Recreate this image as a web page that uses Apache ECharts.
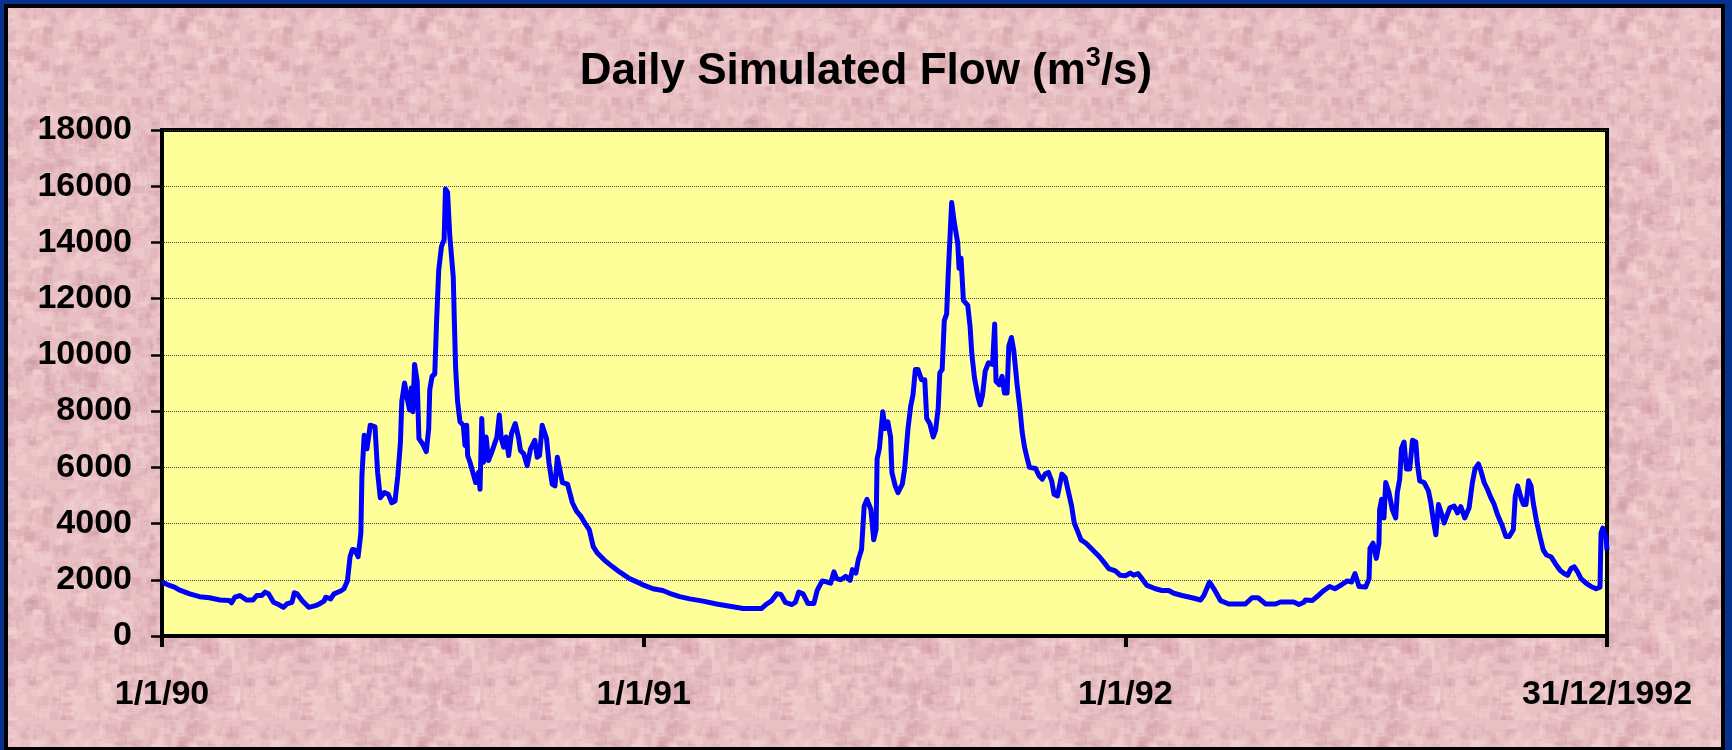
<!DOCTYPE html>
<html>
<head>
<meta charset="utf-8">
<title>Daily Simulated Flow</title>
<script src="https://cdn.jsdelivr.net/npm/echarts@6.0.0/dist/echarts.min.js"></script>
<style>
  html, body { margin: 0; padding: 0; background: #e8c0c4; }
  #chart { width: 1732px; height: 750px; background-color: #e8c0c4; }
</style>
</head>
<body>
<div id="chart"></div>
<script>
// day offsets from 1/1/1990 and flow (m3/s)
const days1990 = [0, 5.6, 9.4, 13, 21, 28.5, 36, 44, 51, 52.7,
  55.2, 59, 64, 69, 71.8, 75.6, 78.1, 80.7, 84.5, 88.3,
  92.1, 94.6, 98.5, 100.3, 102.3, 106.1, 111.2, 116.3, 118.8, 122.7,
  124, 127.8, 130.3, 135.4, 137.9, 140.5, 142.5, 144.3, 146.1, 148.6,
  150.7, 151.5, 153.2, 155.3, 157.8, 161.4, 163.4, 165.4, 168.5, 171.5,
  174.1, 176.6, 178.7, 180.7, 181.7, 183.8, 185.8, 187.6, 188.9, 190.1,
  191.4, 193.4, 194.7, 197.4, 200.3, 202.1, 202.9, 204.7, 206.7, 208,
  209.7, 211.8, 213.8, 214.8, 216.4, 218.1, 220.7, 221.4, 222.5, 224,
  225.8, 228.3, 229.6, 230.9, 231.6, 233.4, 235.9, 237.7, 239.8, 241,
  242.3, 243.6, 245.6, 247.4, 249.9, 253.8, 255.6, 257.1, 258.9, 260.7,
  262.7, 264.8, 267.7, 270.3, 271.6, 274.1, 276.7, 279.3, 282.5, 284.3,
  286.1, 288.1, 291.4, 293.2, 295.7, 297.8, 299.6, 301.4, 303.4, 307.3,
  311, 314.1, 317.4, 321.2, 323.8, 326.8, 330.1, 335.2, 341.5, 346.7,
  354.3, 361.9];
const flow1990 = [1920, 1800, 1740, 1640, 1500, 1400, 1360, 1280, 1260, 1180,
  1380, 1440, 1280, 1280, 1440, 1440, 1560, 1500, 1200, 1120,
  1020, 1140, 1200, 1540, 1500, 1260, 1020, 1080, 1130, 1240,
  1380, 1320, 1500, 1600, 1680, 1960, 2820, 3080, 3060, 2820,
  3660, 5700, 7140, 6660, 7500, 7440, 5820, 4920, 5100, 5040,
  4740, 4800, 5700, 6900, 8340, 9000, 8460, 8040, 8820, 7980,
  9660, 9060, 7020, 6840, 6560, 7380, 8760, 9240, 9320, 11100,
  13020, 13860, 14100, 15900, 15780, 14220, 12780, 11460, 9540, 8340,
  7620, 7500, 6780, 7500, 6420, 6180, 5760, 5460, 5820, 5220,
  7740, 6180, 7080, 6240, 6540, 7080, 7860, 7020, 6720, 7080,
  6420, 7200, 7560, 7020, 6600, 6480, 6060, 6660, 6960, 6360,
  6420, 7500, 7020, 6180, 5400, 5340, 6360, 5940, 5460, 5400,
  4740, 4440, 4260, 3960, 3780, 3180, 2940, 2700, 2460, 2280,
  2040, 1880];

const days1991 = [365.5, 372, 379.5, 384.6, 392.3, 400, 410, 420.2, 430.3, 440.4,
  454.4, 458.3, 462.1, 465.9, 469, 472.3, 477.4, 480, 482.5, 485.8,
  489.4, 494, 496.5, 500.3, 504.1, 506.7, 509.2, 511.3, 514.3, 518.1,
  521.4, 523.2, 525.8, 527.6, 530.1, 532.1, 534.2, 537.2, 539.3, 541.1,
  541.9, 543.6, 546.2, 548, 550, 552.1, 553.1, 555.6, 557.7, 561,
  562.8, 564.3, 565.3, 567.3, 569.1, 570.9, 572.9, 575.5, 578, 579.5,
  581.8, 584.4, 586.2, 588.2, 589.4, 591.2, 592.8, 594.6, 595.8, 598.4,
  600.4, 603, 604, 605.5, 607.3, 610.6, 612.4, 613.7, 615.7, 618.3,
  620, 621.8, 623.8, 626.3, 629.4, 631, 632, 634.5, 636.6, 638.4,
  640.4, 641.7, 643.7, 645.5, 648, 650.1, 651.8, 653.6, 655.7, 657.4,
  662, 664.6, 667.1, 669.2, 671.7, 674.2, 676, 678.6, 681.9, 684.4,
  687, 689.3, 691.3, 693.9, 696.4, 700.2, 705.3, 710.4, 715.5, 717.4,
  722.4, 726.2];
const flow1991 = [1800, 1680, 1620, 1520, 1400, 1320, 1240, 1140, 1060, 980,
  980, 1140, 1260, 1500, 1480, 1200, 1120, 1200, 1560, 1500,
  1160, 1160, 1620, 1960, 1920, 1880, 2280, 2040, 2000, 2120,
  1980, 2360, 2240, 2700, 3080, 4620, 4860, 4500, 3420, 3780,
  6300, 6660, 7980, 7380, 7620, 7080, 5820, 5340, 5100, 5400,
  5960, 6000, 7380, 8160, 8580, 9480, 9480, 9120, 9120, 7740,
  7560, 7080, 7320, 8100, 9360, 9480, 11220, 11460, 12900, 15420,
  14700, 13980, 13080, 13440, 11940, 11760, 10980, 10020, 9180, 8520,
  8220, 8580, 9420, 9720, 9660, 11100, 9060, 8940, 9240, 8640,
  8640, 10320, 10620, 10140, 8940, 8100, 7260, 6720, 6300, 6000,
  5960, 5700, 5580, 5760, 5820, 5520, 5040, 4980, 5760, 5640,
  5100, 4620, 4020, 3720, 3420, 3300, 3060, 2820, 2520, 2400,
  2320, 2160];

const days1992 = [730, 733.8, 736.3, 739.6, 742.6, 746.4, 752.8, 757.8, 762.9, 766.7,
  773, 780.6, 787, 789.5, 793.8, 797.1, 802.1, 808.4, 821, 826,
  830.6, 836.2, 843.8, 847.6, 857.7, 861.5, 865.3, 866.5, 871.6, 876.7,
  880.5, 884.8, 888.8, 893.1, 898.2, 901.4, 904, 907.1, 912.1, 914.7,
  915.4, 917.7, 920.2, 922.2, 922.7, 924.2, 926, 927.3, 929.8, 932.3,
  934.9, 936.1, 937.9, 939.2, 941.2, 943, 945.5, 947.6, 950.1, 951.3,
  953.1, 956.4, 959.7, 961.5, 963.3, 965.3, 967.3, 969.8, 971.6, 972.8,
  975.9, 979.2, 981.7, 984.2, 987.2, 990.5, 993, 995, 997.6, 999.4,
  1001.9, 1004.4, 1007, 1009.5, 1012, 1015.3, 1018.4, 1020.9, 1024, 1025.5,
  1027.3, 1029.8, 1031.6, 1033.6, 1035.6, 1037.4, 1039.1, 1041.6, 1044.2, 1046.7,
  1049.2, 1052.5, 1055.8, 1059.4, 1062.6, 1065.1, 1067.7, 1070.2, 1072.7, 1075.3,
  1079.1, 1082.9, 1086.7, 1089.7, 1090.5, 1091.8, 1094.3, 1095];
const flow1992 = [2140, 2240, 2160, 2220, 2040, 1800, 1680, 1620, 1620, 1520,
  1440, 1360, 1280, 1440, 1920, 1680, 1260, 1140, 1140, 1360,
  1360, 1140, 1140, 1210, 1210, 1120, 1200, 1280, 1260, 1460,
  1620, 1760, 1680, 1800, 1960, 1920, 2220, 1760, 1740, 2040,
  3120, 3300, 2760, 3300, 4500, 4860, 4200, 5460, 5100, 4500,
  4200, 5100, 5580, 6660, 6900, 5940, 5940, 6960, 6900, 6120,
  5520, 5460, 5160, 4740, 4140, 3600, 4680, 4320, 4020, 4080,
  4560, 4620, 4380, 4600, 4200, 4560, 5460, 5940, 6120, 5880,
  5460, 5220, 4920, 4680, 4320, 3960, 3540, 3540, 3780, 4980,
  5340, 4920, 4680, 4680, 5520, 5340, 4740, 4080, 3540, 3060,
  2880, 2820, 2580, 2340, 2220, 2160, 2400, 2460, 2280, 2040,
  1880, 1760, 1680, 1740, 3660, 3840, 3480, 3060];

const xTickDays = [0, 365, 730, 1095];
const xTickLabels = ['1/1/90', '1/1/91', '1/1/92', '31/12/1992'];

const flowDays = days1990.concat(days1991, days1992);
const flowValues = flow1990.concat(flow1991, flow1992);

const FONT = "'Liberation Sans', Arial, sans-serif";
const BLUE_FRAME = '#06318f';

// mottled pink slide background (fixed seed so it is the same every time)
function makeTexture() {
  const c = document.createElement('canvas');
  c.width = 240;
  c.height = 240;
  const ctx = c.getContext('2d');
  ctx.fillStyle = '#e8c0c4';
  ctx.fillRect(0, 0, 240, 240);
  let seed = 7;
  const rnd = function () { seed = (seed * 16807) % 2147483647; return seed / 2147483647; };
  for (let k = 0; k < 1400; k++) {
    const x = rnd() * 240, y = rnd() * 240;
    const s = 3 + rnd() * 9;
    ctx.fillStyle = rnd() < 0.5 ? 'rgba(205,150,160,0.22)' : 'rgba(248,214,214,0.28)';
    ctx.fillRect(x, y, s, s * (0.5 + rnd()));
  }
  return c.toDataURL();
}
const chartDom = document.getElementById('chart');
chartDom.style.backgroundImage = 'url(' + makeTexture() + ')';

const chart = echarts.init(chartDom);

// outer frame of the slide: blue band with a black line inside
function band(x, y, w, h, fill) {
  return { type: 'rect', shape: { x: x, y: y, width: w, height: h }, style: { fill: fill }, silent: true, z: 100 };
}

chart.setOption({
  animation: false,
  backgroundColor: 'transparent',
  title: {
    text: '{t|Daily Simulated Flow (m}{s|3}{t|/s)}',
    left: 'center',
    top: 40,
    textStyle: {
      rich: {
        t: { fontFamily: FONT, fontWeight: 'bold', fontSize: 44, color: '#000', lineHeight: 53 },
        s: { fontFamily: FONT, fontWeight: 'bold', fontSize: 27, color: '#000', lineHeight: 28, verticalAlign: 'top' }
      }
    }
  },
  grid: {
    left: 162,
    right: 125,
    top: 130,
    bottom: 114,
    show: true,
    backgroundColor: '#ffff99',
    borderColor: '#000',
    borderWidth: 4
  },
  xAxis: {
    type: 'value',
    min: 0,
    max: 1095,
    interval: 365,
    axisLine: { show: true, lineStyle: { color: '#000', width: 4 } },
    axisTick: { show: true, inside: false, length: 11, lineStyle: { color: '#000', width: 4 } },
    axisLabel: {
      margin: 42,
      fontFamily: FONT,
      fontWeight: 'bold',
      fontSize: 34,
      color: '#000',
      formatter: function (v) {
        const i = xTickDays.indexOf(Math.round(v));
        return i >= 0 ? xTickLabels[i] : '';
      }
    },
    splitLine: { show: false }
  },
  yAxis: {
    type: 'value',
    min: 0,
    max: 18000,
    interval: 2000,
    axisLine: { show: true, lineStyle: { color: '#000', width: 4 } },
    axisTick: { show: true, inside: false, length: 11, lineStyle: { color: '#000', width: 2.5 } },
    axisLabel: {
      margin: 30,
      fontFamily: FONT,
      fontWeight: 'bold',
      fontSize: 34,
      color: '#000',
      formatter: function (v) { return String(v); }
    },
    splitLine: { show: true, lineStyle: { color: '#444', width: 1, type: 'dotted' } }
  },
  series: [{
    type: 'line',
    data: flowDays.map(function (d, i) { return [d, flowValues[i]]; }),
    showSymbol: false,
    lineStyle: { color: '#0000ff', width: 5, join: 'round' },
    z: 5
  }],
  graphic: [
    band(0, 0, 1732, 4, BLUE_FRAME),
    band(0, 0, 4, 750, BLUE_FRAME),
    band(1725, 0, 7, 750, BLUE_FRAME),
    band(4, 4, 1721, 4, '#000'),
    band(4, 4, 4, 746, '#000'),
    band(1721, 4, 4, 746, '#000'),
    band(4, 747, 1721, 3, '#000')
  ]
});
</script>
</body>
</html>
